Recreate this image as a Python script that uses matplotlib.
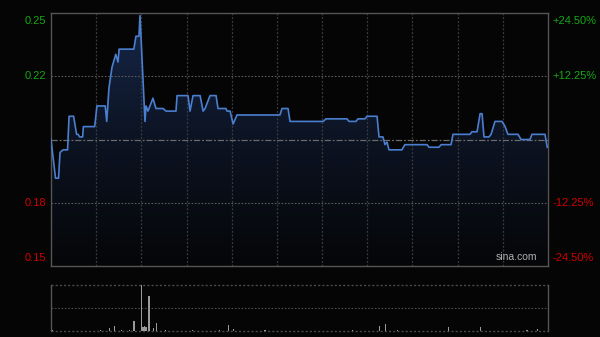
import numpy as np
import matplotlib
matplotlib.use("Agg")
import matplotlib.pyplot as plt
from matplotlib.colors import LinearSegmentedColormap

# ---------------- data ----------------
prev_close = 0.200
minutes = [0, 3, 5, 6, 8, 11, 12, 15, 17, 18, 19, 21, 21.5, 29, 30.5, 36, 37, 38.5, 40.5, 43,
           44.5, 45.2, 55, 56.4, 58.4, 59.1, 62.4, 63.1, 64.4, 67.7, 69.7, 74.4, 76.4, 83, 83.7,
           91, 92.3, 94.3, 99, 101, 102.3, 105.6, 109.6, 110.9, 116.2, 116.9, 118.9, 120.9, 123.5,
           152, 153.4, 157.4, 158.7, 180.6, 182.6, 196.5, 197.9, 202.5, 203.8, 208.5, 209.8, 216.5,
           217.8, 220.4, 221.8, 223.1, 224.4, 233, 235, 249.7, 251, 257.6, 259, 265.6, 266.9, 278.2,
           279.5, 282.9, 284.9, 286.2, 287.5, 290.8, 292.2, 294.8, 299.5, 301.5, 303.4, 310.1, 312.1,
           318, 319.4, 328, 329.5]
prices = [0.200, 0.185, 0.185, 0.195, 0.196, 0.196, 0.209, 0.209, 0.202, 0.202, 0.201, 0.201, 0.205,
          0.205, 0.213, 0.213, 0.207, 0.220, 0.228, 0.233, 0.230, 0.235, 0.235, 0.240, 0.240, 0.248,
          0.207, 0.213, 0.211, 0.216, 0.212, 0.212, 0.211, 0.211, 0.217, 0.217, 0.211, 0.217, 0.217,
          0.211, 0.212, 0.217, 0.217, 0.212, 0.212, 0.211, 0.211, 0.206, 0.2095, 0.2095, 0.212, 0.212,
          0.207, 0.207, 0.208, 0.208, 0.207, 0.207, 0.208, 0.208, 0.209, 0.209, 0.201, 0.201, 0.198,
          0.199, 0.196, 0.196, 0.198, 0.198, 0.197, 0.197, 0.198, 0.198, 0.202, 0.202, 0.203, 0.203,
          0.210, 0.210, 0.201, 0.201, 0.202, 0.207, 0.207, 0.205, 0.202, 0.202, 0.200, 0.200, 0.202,
          0.202, 0.197]

vol_minutes = [1, 4, 8, 12, 17, 22, 27, 33, 39, 42, 47, 52, 55, 60, 61, 62, 63, 65, 68, 70, 76, 84,
               94, 104, 112, 118, 121, 130, 142, 155, 170, 186, 200, 212, 218, 222, 230, 243, 255,
               264, 272, 285, 296, 308, 316, 323, 328]
volumes = [6, 4, 5, 4, 5, 4, 5, 6, 30, 50, 8, 6, 100, 460, 40, 50, 40, 350, 30, 80, 6, 5,
           10, 5, 6, 60, 20, 5, 6, 5, 4, 5, 6, 5, 50, 70, 6, 5, 5,
           40, 5, 40, 5, 5, 6, 20, 5]

left_labels = ["0.25", "0.22", "0.18", "0.15"]
right_labels = ["+24.50%", "+12.25%", "-12.25%", "-24.50%"]
pct_levels = [0.245, 0.1225, -0.1225, -0.245]

# ---------------- style ----------------
BG = "#050505"
GREEN = "#14a814"
RED = "#d00000"
LINE = "#4a7fd0"
SPINE = "#555555"

plt.rcParams['font.family'] = ['Liberation Sans', 'DejaVu Sans']

fig = plt.figure(figsize=(6.0, 3.37), dpi=100, facecolor=BG)
ax = fig.add_axes([51/600, 1-266/337, 497/600, 253/337])
axv = fig.add_axes([51/600, 1-331/337, 497/600, 46/337])

ymin = prev_close * (1 - 0.245)
ymax = prev_close * (1 + 0.245)

for a in (ax, axv):
    a.set_facecolor(BG)
    a.tick_params(left=False, right=False, bottom=False, top=False,
                  labelleft=False, labelbottom=False)

ax.set_xlim(0, 330)
ax.set_ylim(ymin, ymax)

# vertical grid
for m in range(30, 330, 30):
    ax.axvline(m, color="#3c3c3c", lw=0.9, ls=(0, (1.5, 1.5)), zorder=2)
# horizontal grid
for p in (0.1225, -0.1225):
    ax.axhline(prev_close * (1 + p), color="#5a5a5a", lw=0.8, ls=(0, (1.5, 1.5)), zorder=2)
ax.axhline(prev_close, color="#6a6a6a", lw=0.9, ls=(0, (5, 1.5, 1.5, 1.5)), zorder=4)

# gradient fill under line
cmap = LinearSegmentedColormap.from_list("g", ["#050608", "#0c1322", "#17284a"])
grad = np.linspace(0, 1, 256).reshape(-1, 1)
poly = ax.fill_between(minutes, prices, ymin, color="none", lw=0)
im = ax.imshow(grad, extent=[0, 330, ymin, ymax], aspect="auto", origin="lower",
               cmap=cmap, zorder=1)
im.set_clip_path(poly.get_paths()[0], transform=ax.transData)
ax.plot(minutes, prices, color=LINE, lw=1.2, zorder=5, solid_joinstyle="round")

for s in ax.spines.values():
    s.set_color(SPINE)
    s.set_linewidth(1.0)

# labels
ytr = ax.get_yaxis_transform()
for lab, rl, p in zip(left_labels, right_labels, pct_levels):
    yv = prev_close * (1 + p)
    col = GREEN if p > 0 else RED
    va = "center"
    dy = 0
    if p == 0.245:
        va = "top"; dy = -0.0012
    elif p == -0.245:
        va = "bottom"; dy = 0.0012
    ax.text(-0.009, yv + dy, lab, transform=ytr, ha="right", va=va, color=col, fontsize=8)
    ax.text(1.009, yv + dy, rl, transform=ytr, ha="left", va=va, color=col, fontsize=8)

ax.text(0.978, 0.015, "sina.com", transform=ax.transAxes, ha="right", va="bottom",
        color="#b0b0b0", fontsize=7.5, zorder=6)

# volume
axv.set_xlim(0, 330)
axv.set_ylim(0, 460)
axv.bar(vol_minutes, volumes, width=0.9, color="#9a9a9a", lw=0, zorder=3)
axv.axhline(230, color="#4a4a4a", lw=0.8, ls=(0, (1.5, 1.5)))
axv.axhline(460, color="#4a4a4a", lw=1.0, ls=(0, (1.5, 1.5)), clip_on=False)
axv.axhline(0, color="#4a4a4a", lw=1.0, ls=(0, (1.5, 1.5)), clip_on=False)
axv.spines['top'].set_visible(False)
axv.spines['bottom'].set_visible(False)
for k in ('left', 'right'):
    axv.spines[k].set_color(SPINE)
    axv.spines[k].set_linewidth(1.0)

fig.savefig("out.png", dpi=100, facecolor=BG)
